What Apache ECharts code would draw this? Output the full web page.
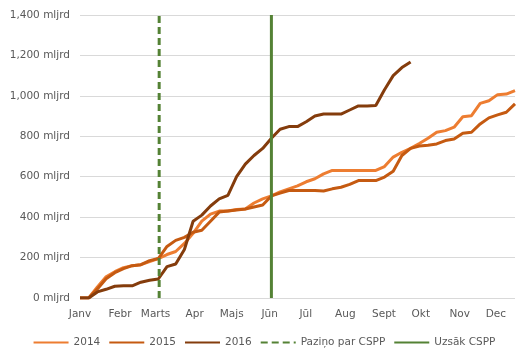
<!DOCTYPE html>
<html>
<head>
<meta charset="utf-8">
<script src="https://cdn.jsdelivr.net/npm/echarts@6/dist/echarts.min.js"></script>
<style>html,body{margin:0;padding:0;background:#fff}#c{width:528px;height:360px}</style>
</head>
<body>
<div id="c"></div>
<script>
// Weekly cumulative values (week index 0..50)
var s2014 = [0,0,55,105,130,150,160,165,180,195,215,230,270,320,380,415,430,430,438,440,470,490,505,525,540,555,575,590,614,631,631,631,631,631,631,650,697,721,740,764,790,820,828,845,897,902,963,976,1006,1009,1026];
var s2015 = [0,0,45,95,125,145,160,165,185,195,255,285,300,325,335,380,425,430,435,440,450,460,505,519,532,532,532,532,529,540,548,562,581,581,581,598,627,705,740,752,756,762,779,787,815,820,861,891,906,919,960];
var s2016 = [0,0,30,43,58,60,60,78,88,94,155,168,240,380,410,455,490,508,600,662,705,740,790,835,848,848,872,900,910,910,910,930,950,950,952,1030,1100,1140,1168];
// Month tick labels and their positions (in weeks)
var monthLabels = ['Janv','Febr','Marts','Apr','Majs','Jūn','Jūl','Aug','Sept','Okt','Nov','Dec'];
var monthPos = [0,4.6,8.68,13.18,17.44,21.8,25.95,30.5,34.94,39.17,43.64,47.8];
// Event markers (week positions)
var announceWeek = 9.1;
var startWeek = 22;
var yMax = 1400;

function toPairs(arr){ return arr.map(function(v,i){ return [i,v]; }); }

var font = 'DejaVu Sans';
var txt = '#595959';
var chart = echarts.init(document.getElementById('c'), null, {renderer:'canvas'});
chart.setOption({
  animation: false,
  grid: {left: 80, right: 13, top: 15, bottom: 62},
  legend: {
    top: 332, left: 'center',
    itemWidth: 35, itemHeight: 10, itemGap: 8,
    itemStyle: {opacity: 0},
    textStyle: {fontFamily: font, fontSize: 10.5, color: txt},
    data: ['2014','2015','2016','Paziņo par CSPP','Uzsāk CSPP']
  },
  xAxis: {
    type: 'value', min: 0, max: 50,
    axisLine: {show: false}, axisTick: {show: false}, splitLine: {show: false},
    axisLabel: {
      customValues: monthPos,
      margin: 11,
      fontFamily: font, fontSize: 10.5, color: txt,
      formatter: function(v){
        for (var i=0;i<monthPos.length;i++){ if (Math.abs(monthPos[i]-v)<1e-6) return monthLabels[i]; }
        return '';
      }
    }
  },
  yAxis: {
    type: 'value', min: 0, max: yMax, interval: 200,
    axisLine: {show: false}, axisTick: {show: false},
    splitLine: {lineStyle: {color: '#d9d9d9', width: 1}},
    axisLabel: {
      margin: 10, fontFamily: font, fontSize: 10.5, color: txt,
      formatter: function(v){ return v.toLocaleString('en-US') + ' mljrd'; }
    }
  },
  series: [
    {name:'2014', type:'line', data: toPairs(s2014), showSymbol:false, symbol:'none',
     lineStyle:{color:'#ED7D31', width:3}, itemStyle:{color:'#ED7D31'}},
    {name:'2015', type:'line', data: toPairs(s2015), showSymbol:false, symbol:'none',
     lineStyle:{color:'#C55A11', width:3}, itemStyle:{color:'#C55A11'}},
    {name:'2016', type:'line', data: toPairs(s2016), showSymbol:false, symbol:'none',
     lineStyle:{color:'#843C0C', width:3}, itemStyle:{color:'#843C0C'}},
    {name:'Paziņo par CSPP', type:'line', data: [[announceWeek,0],[announceWeek,yMax]], showSymbol:false, symbol:'none',
     lineStyle:{color:'#548235', width:3, type:[7,4]}, itemStyle:{color:'#548235'}},
    {name:'Uzsāk CSPP', type:'line', data: [[startWeek,0],[startWeek,yMax]], showSymbol:false, symbol:'none',
     lineStyle:{color:'#548235', width:3}, itemStyle:{color:'#548235'}}
  ]
});
</script>
</body>
</html>
